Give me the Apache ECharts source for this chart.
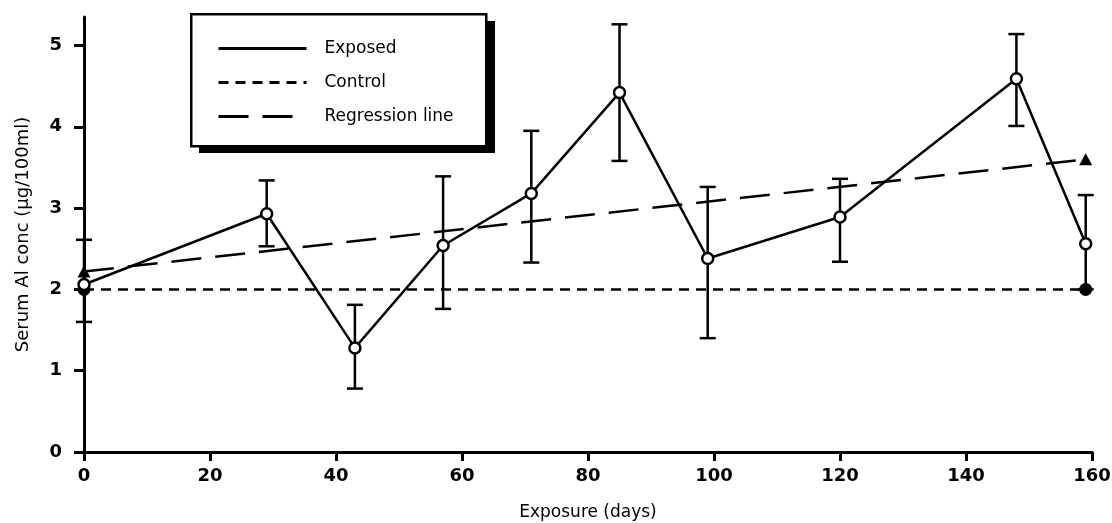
<!DOCTYPE html>
<html lang="en">
<head>
    <meta charset="UTF-8">
    <title>Serum Al conc</title>
    <script src="https://cdn.jsdelivr.net/npm/echarts@6/dist/echarts.min.js"></script>
    <style>
        body { margin: 0; background: #fff; }
    </style>
</head>
<body>
<!-- chart container -->
<div id="main" style="width: 1112px;height: 523px;"></div>
<script>
    // exposure days of the sampled points
    var days = [0, 29, 43, 57, 71, 85, 99, 120, 148, 159];
    // exposed group mean and error bar ends
    var exposedMean = [2.06, 2.93, 1.28, 2.54, 3.18, 4.42, 2.38, 2.89, 4.59, 2.56];
    var errUpper = [2.61, 3.34, 1.81, 3.39, 3.95, 5.26, 3.26, 3.36, 5.14, 3.16];
    var errLower = [1.60, 2.53, 0.78, 1.76, 2.33, 3.58, 1.40, 2.34, 4.01, 2.00];
    // control level and regression line end points
    var controlDays = [0, 159];
    var controlValues = [2, 2];
    var regressionDays = [0, 159];
    var regressionValues = [2.22, 3.6];
    // tick labels
    var xTicks = [0, 20, 40, 60, 80, 100, 120, 140, 160];
    var yTicks = [0, 1, 2, 3, 4, 5];

    function pairs(xs, ys) {
        return xs.map(function (x, i) { return [x, ys[i]]; });
    }

    var errData = days.map(function (d, i) { return [d, errUpper[i], errLower[i]]; });

    var myChart = echarts.init(document.getElementById('main'));
    var font = 'DejaVu Sans, Liberation Sans, sans-serif';
    var ink = '#000';

    var option = {
        animation: false,
        backgroundColor: '#fff',
        grid: { left: 84, right: 20, top: 17, bottom: 71, outerBoundsMode: 'none', containLabel: false },
        // legend frame with its hard drop shadow
        graphic: [
            { type: 'rect', left: 199, top: 21, z: 0, shape: { width: 296, height: 132 }, style: { fill: ink } },
            { type: 'rect', left: 190, top: 13, z: 1, shape: { width: 295, height: 132 },
                style: { fill: '#fff', stroke: ink, lineWidth: 2.5 } }
        ],
        legend: {
            data: ['Exposed', 'Control', 'Regression line'],
            orient: 'vertical',
            left: 190,
            top: 13,
            z: 10,
            padding: [27, 20, 20, 27],
            itemWidth: 88,
            itemHeight: 14,
            itemGap: 17,
            selectedMode: false,
            itemStyle: { opacity: 0 },
            lineStyle: { width: 3 },
            textStyle: { fontFamily: font, fontSize: 17, color: ink, padding: [0, 0, 0, 13] }
        },
        xAxis: {
            type: 'value',
            min: 0,
            max: 160,
            interval: 20,
            name: 'Exposure (days)',
            nameLocation: 'middle',
            nameGap: 52,
            nameTextStyle: { fontFamily: font, fontSize: 17, color: ink },
            splitLine: { show: false },
            axisLine: { onZero: false, lineStyle: { color: ink, width: 3 } },
            axisTick: { length: 9, lineStyle: { color: ink, width: 3 } },
            axisLabel: { margin: 15, fontFamily: font, fontSize: 18, fontWeight: 'bold', color: ink,
                customValues: xTicks }
        },
        yAxis: {
            type: 'value',
            min: 0,
            max: 5.35,
            name: 'Serum Al conc (\u03bcg/100ml)',
            nameLocation: 'middle',
            nameGap: 52,
            nameTextStyle: { fontFamily: font, fontSize: 18, color: ink },
            splitLine: { show: false },
            axisLine: { show: true, lineStyle: { color: ink, width: 3 } },
            axisTick: { show: true, length: 10, lineStyle: { color: ink, width: 3 }, customValues: yTicks },
            axisLabel: { margin: 22, fontFamily: font, fontSize: 18, fontWeight: 'bold', color: ink,
                customValues: yTicks }
        },
        series: [
            {
                name: 'errors',
                type: 'custom',
                data: errData,
                encode: { x: 0, y: [1, 2] },
                z: 2,
                renderItem: function (params, api) {
                    var x = api.value(0);
                    var top = api.coord([x, api.value(1)]);
                    var bot = api.coord([x, api.value(2)]);
                    var half = 8;
                    var st = { stroke: ink, lineWidth: 2.5 };
                    return {
                        type: 'group',
                        children: [
                            { type: 'line', shape: { x1: top[0], y1: top[1], x2: bot[0], y2: bot[1] }, style: st },
                            { type: 'line', shape: { x1: top[0] - half, y1: top[1], x2: top[0] + half, y2: top[1] }, style: st },
                            { type: 'line', shape: { x1: bot[0] - half, y1: bot[1], x2: bot[0] + half, y2: bot[1] }, style: st }
                        ]
                    };
                }
            },
            {
                name: 'Control',
                type: 'line',
                data: pairs(controlDays, controlValues),
                symbol: 'none',
                z: 3,
                lineStyle: { color: ink, width: 2.5, type: [10, 7] }
            },
            {
                name: 'Regression line',
                type: 'line',
                data: pairs(regressionDays, regressionValues),
                symbol: 'none',
                z: 3,
                lineStyle: { color: ink, width: 2.5, type: [30, 14] }
            },
            {
                name: 'Exposed',
                type: 'line',
                data: pairs(days, exposedMean),
                symbol: 'none',
                z: 4,
                lineStyle: { color: ink, width: 2.5, type: 'solid' }
            },
            {
                name: 'regression ends',
                type: 'scatter',
                data: pairs(regressionDays, regressionValues),
                symbol: 'triangle',
                symbolSize: [13, 12],
                z: 5,
                itemStyle: { color: ink, opacity: 1 }
            },
            {
                name: 'control ends',
                type: 'scatter',
                data: pairs(controlDays, controlValues),
                symbol: 'circle',
                symbolSize: 13,
                z: 5,
                itemStyle: { color: ink, opacity: 1 }
            },
            {
                name: 'exposed points',
                type: 'scatter',
                data: pairs(days, exposedMean),
                symbol: 'circle',
                symbolSize: 11,
                z: 6,
                itemStyle: { color: '#fff', borderColor: ink, borderWidth: 2.5, opacity: 1 }
            }
        ]
    };
    myChart.setOption(option);
</script>
</body>
</html>
